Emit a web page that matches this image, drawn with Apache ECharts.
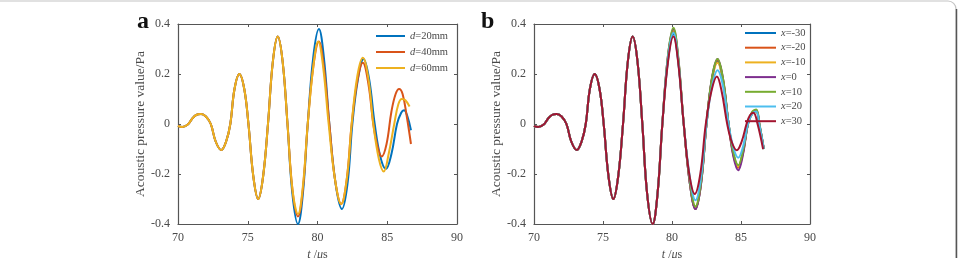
<!DOCTYPE html>
<html>
<head>
<meta charset="utf-8">
<script src="https://cdn.jsdelivr.net/npm/echarts@6/dist/echarts.min.js"></script>
<style>html,body{margin:0;padding:0;background:#fff}#c{width:959px;height:258px}</style>
</head>
<body>
<div id="c"></div>
<script>
// ---- data ----
const xTicks = [70, 75, 80, 85, 90];
const yTicks = [-0.4, -0.2, 0, 0.2, 0.4];

// common early part of every waveform [t (us), pressure (Pa)]
const headPts = [[70.0,-0.008],[70.3,-0.012],[70.7,-0.002],[71.0,0.02],[71.3,0.036],[71.65,0.04],[72.0,0.03],[72.35,0.0],[72.7,-0.07],[73.1,-0.104],[73.45,-0.07],[73.75,0.0],[74.05,0.14],[74.4,0.2],[74.75,0.14],[75.05,0.0],[75.4,-0.21],[75.75,-0.3],[76.1,-0.21],[76.45,0.0],[76.8,0.25],[77.15,0.35],[77.5,0.25],[77.85,0.0]];

// panel a tails
const aNames = ['d=20mm', 'd=40mm', 'd=60mm'];
const aTail20 = [[78.2,-0.28],[78.6,-0.4],[78.95,-0.28],[79.3,0.0],[79.7,0.27],[80.1,0.38],[80.45,0.27],[80.85,0.0],[81.3,-0.24],[81.75,-0.34],[82.15,-0.24],[82.5,0.0],[82.9,0.18],[83.3,0.26],[83.7,0.18],[84.1,0.0],[84.5,-0.13],[84.9,-0.18],[85.3,-0.12],[85.7,0.0],[86.0,0.045],[86.2,0.055],[86.45,0.03],[86.7,-0.025]];
const aTail40 = [[78.2,-0.26],[78.6,-0.37],[78.95,-0.26],[79.3,0.0],[79.7,0.23],[80.1,0.33],[80.45,0.23],[80.85,0.0],[81.25,-0.22],[81.7,-0.32],[82.1,-0.22],[82.45,0.0],[82.85,0.17],[83.25,0.245],[83.65,0.16],[84.0,0.0],[84.3,-0.09],[84.6,-0.13],[84.95,-0.08],[85.3,0.05],[85.6,0.12],[85.85,0.14],[86.1,0.12],[86.4,0.03],[86.7,-0.08]];
const aTail60 = [[78.2,-0.26],[78.6,-0.36],[78.95,-0.25],[79.3,0.0],[79.7,0.23],[80.05,0.33],[80.4,0.23],[80.8,0.0],[81.25,-0.22],[81.7,-0.32],[82.1,-0.22],[82.45,0.0],[82.85,0.19],[83.25,0.265],[83.65,0.18],[84.0,0.0],[84.4,-0.14],[84.75,-0.19],[85.1,-0.12],[85.5,0.0],[85.8,0.08],[86.05,0.1],[86.3,0.095],[86.6,0.07]];
const aColors = ['#0072BD', '#D95319', '#EDB120'];

// panel b
const bNames = ['x=-30', 'x=-20', 'x=-10', 'x=0', 'x=10', 'x=20', 'x=30'];
const bMid = [[78.2,-0.28],[78.6,-0.4],[78.95,-0.28],[79.3,0.0]];
const bT = [79.7,80.1,80.45,80.85,81.3,81.7,82.1,82.5,82.9,83.3,83.7,84.1,84.45,84.8,85.15,85.5,85.8,86.1,86.35,86.65];
const bT30 = [79.7,80.1,80.45,80.85,81.25,81.65,82.05,82.45,82.85,83.25,83.6,84.0,84.35,84.7,85.05,85.4,85.65,85.9,86.2,86.6];
const bVm30 = [0.25,0.36,0.25,0,-0.24,-0.34,-0.24,0,0.18,0.25,0.17,0,-0.12,-0.17,-0.11,0,0.04,0.05,-0.01,-0.1];
const bVm20 = [0.26,0.37,0.26,0,-0.24,-0.34,-0.24,0,0.18,0.255,0.175,0,-0.125,-0.175,-0.115,0,0.042,0.052,-0.01,-0.1];
const bVm10 = [0.265,0.375,0.26,0,-0.235,-0.335,-0.235,0,0.175,0.245,0.17,0,-0.12,-0.17,-0.11,0,0.04,0.05,-0.01,-0.1];
const bV0 = [0.27,0.38,0.265,0,-0.24,-0.34,-0.24,0,0.185,0.26,0.18,0,-0.13,-0.185,-0.12,0,0.045,0.055,-0.005,-0.1];
const bV10 = [0.27,0.385,0.27,0,-0.23,-0.33,-0.23,0,0.185,0.26,0.18,0,-0.115,-0.165,-0.105,0,0.048,0.058,-0.005,-0.1];
const bV20 = [0.26,0.365,0.255,0,-0.215,-0.305,-0.215,0,0.15,0.215,0.15,0,-0.095,-0.135,-0.09,0,0.04,0.05,-0.01,-0.1];
const bV30 = [0.245,0.35,0.245,0,-0.2,-0.28,-0.2,0,0.13,0.19,0.13,0,-0.075,-0.105,-0.07,0,0.035,0.045,0.0,-0.1];
const bColors = ['#0072BD', '#D95319', '#EDB120', '#7E2F8E', '#77AC30', '#4DBEEE', '#A2142F'];

// ---- build ----
const FONT = 'Liberation Serif';
const TXT = '#4a4a4a';
const AX = '#555';
const zip = (t, v) => t.map((x, i) => [x, v[i]]);
const aData = [headPts.concat(aTail20), headPts.concat(aTail40), headPts.concat(aTail60)];
const bData = [
  headPts.concat(bMid, zip(bT, bVm30)),
  headPts.concat(bMid, zip(bT, bVm20)),
  headPts.concat(bMid, zip(bT, bVm10)),
  headPts.concat(bMid, zip(bT, bV0)),
  headPts.concat(bMid, zip(bT, bV10)),
  headPts.concat(bMid, zip(bT, bV20)),
  headPts.concat(bMid, zip(bT30, bV30))
];

function xAx(grid, main) {
  return {
    type: 'value', gridIndex: grid, min: xTicks[0], max: xTicks[xTicks.length - 1], interval: 5,
    position: main ? 'bottom' : 'top',
    axisLine: { show: true, onZero: false, lineStyle: { color: AX, width: 1.2 } },
    axisTick: { show: true, inside: true, length: 3, lineStyle: { color: AX } },
    splitLine: { show: false },
    axisLabel: { show: main, color: TXT, fontFamily: FONT, fontSize: 12, margin: 8 },
    name: main ? '{i|t}{r| /}{i|μ}{r|s}' : '',
    nameLocation: 'middle', nameGap: 21,
    nameTextStyle: { color: TXT, fontFamily: FONT, fontSize: 12,
      rich: { i: { fontStyle: 'italic', fontFamily: FONT, fontSize: 12, color: TXT }, r: { fontFamily: FONT, fontSize: 12, color: TXT } } }
  };
}
function yAx(grid, main) {
  return {
    type: 'value', gridIndex: grid, min: -0.4, max: 0.4, interval: 0.2,
    position: main ? 'left' : 'right',
    axisLine: { show: true, onZero: false, lineStyle: { color: AX, width: 1.2 } },
    axisTick: { show: true, inside: true, length: 3, lineStyle: { color: AX } },
    splitLine: { show: false },
    axisLabel: { show: main, color: TXT, fontFamily: FONT, fontSize: 12, margin: 8,
      formatter: v => String(Math.round(v * 10) / 10) },
    name: main ? 'Acoustic pressure value/Pa' : '',
    nameLocation: 'middle', nameGap: 31,
    nameTextStyle: { color: TXT, fontFamily: FONT, fontSize: 13.5 }
  };
}

const series = [];
aData.forEach((d, i) => series.push({
  name: aNames[i], type: 'line', xAxisIndex: 0, yAxisIndex: 0, data: d,
  smooth: 0.4, symbol: 'none', lineStyle: { width: 2, color: aColors[i] }, itemStyle: { color: aColors[i] }
}));
bData.forEach((d, i) => series.push({
  name: bNames[i], type: 'line', xAxisIndex: 2, yAxisIndex: 2, data: d,
  smooth: 0.4, symbol: 'none', lineStyle: { width: 2, color: bColors[i] }, itemStyle: { color: bColors[i] }
}));

const legendText = () => ({
  color: TXT, fontFamily: FONT, fontSize: 10.5, lineHeight: 12,
  rich: { i: { fontStyle: 'italic', fontFamily: FONT, fontSize: 10.5, color: TXT, lineHeight: 12 }, r: { fontFamily: FONT, fontSize: 10.5, color: TXT, lineHeight: 12 } }
});

const option = {
  animation: false,
  backgroundColor: '#fff',
  grid: [
    { left: 178, top: 24, width: 279, height: 200, outerBoundsMode: 'none', containLabel: false },
    { left: 534, top: 24, width: 276, height: 200, outerBoundsMode: 'none', containLabel: false }
  ],
  xAxis: [xAx(0, true), xAx(0, false), xAx(1, true), xAx(1, false)],
  yAxis: [yAx(0, true), yAx(0, false), yAx(1, true), yAx(1, false)],
  legend: [
    { data: aNames, orient: 'vertical', left: 376, top: 30, padding: 0, icon: 'rect', itemWidth: 29, itemHeight: 2, itemGap: 4, itemTextGap: 3,
      textStyle: legendText(), formatter: n => '{i|' + n[0] + '}{r|' + n.slice(1) + '}' },
    { data: bNames, orient: 'vertical', left: 745, top: 27, padding: 0, icon: 'rect', itemWidth: 31, itemHeight: 2, itemGap: 2.7, itemTextGap: 3,
      textStyle: legendText(), formatter: n => '{i|' + n[0] + '}{r|' + n.slice(1) + '}' }
  ],
  graphic: [
    { type: 'rect', shape: { x: -10, y: 1, width: 966, height: 300, r: 8 }, style: { fill: 'none', stroke: '#c4c4c4', lineWidth: 1.2 }, silent: true },
    { type: 'line', shape: { x1: 956.5, y1: 9, x2: 956.5, y2: 258 }, style: { stroke: '#555', lineWidth: 1.5 }, silent: true },
    { type: 'text', left: 137, top: 10, style: { text: 'a', font: 'bold 24px "Liberation Serif"', fill: '#111' } },
    { type: 'text', left: 481, top: 10, style: { text: 'b', font: 'bold 24px "Liberation Serif"', fill: '#111' } }
  ],
  series: series
};
const chart = echarts.init(document.getElementById('c'), null, { renderer: 'canvas' });
chart.setOption(option);
</script>
</body>
</html>
